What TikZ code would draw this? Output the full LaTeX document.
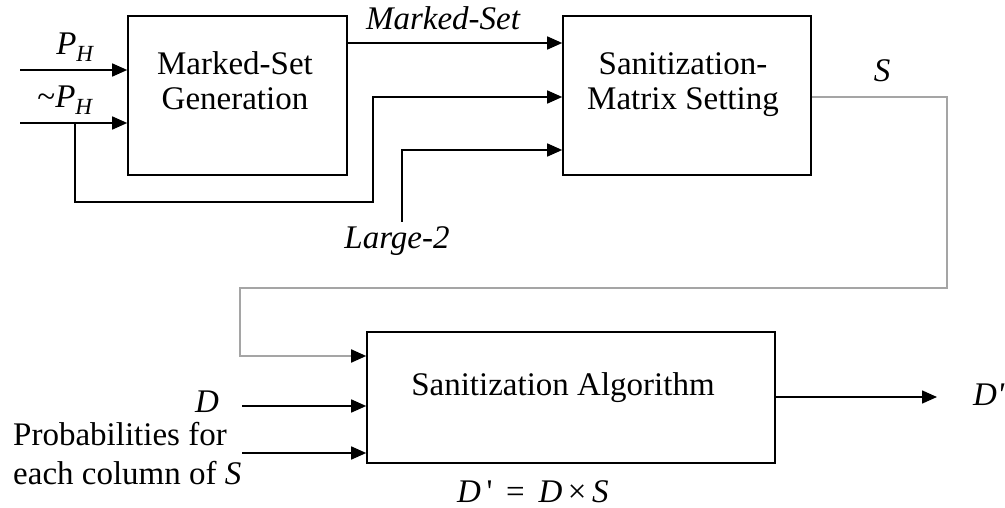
\documentclass[tikz,border=0pt]{standalone}
\usepackage{fontspec}
\setmainfont{Liberation Serif}
\usetikzlibrary{arrows.meta}
\definecolor{sline}{RGB}{165,165,165}
\begin{document}
\begin{tikzpicture}[x=1pt,y=-1pt,
  blk/.style={draw,line width=1.6pt,inner sep=0pt},
  txt/.style={inner sep=0pt,anchor=base,font=\fontsize{33}{37}\selectfont},
  lbl/.style={txt,font=\fontsize{33}{37}\selectfont\itshape},
  wire/.style={line width=1.6pt},
  arr/.style={wire,-{Triangle[length=15pt,width=13pt]}},
  sarr/.style={line width=1.8pt,color=sline,-{Triangle[length=15pt,width=13pt,color=black]}}]
\useasboundingbox (0,0) rectangle (1005,508);
\fill[white] (0,0) rectangle (1005,508);

% blocks
\node[blk,minimum width=219pt,minimum height=159pt] (gen) at (237.5,95.5) {};
\node[blk,minimum width=248pt,minimum height=159pt] (mat) at (687,95.5) {};
\node[blk,minimum width=408pt,minimum height=131pt] (alg) at (571,397.5) {};

% block captions
\node[txt] (gen1) at (235,75) {Marked-Set};
\node[txt] (gen2) at (235,110) {Generation};
\node[txt] (mat1) at (683,75) {Sanitization-};
\node[txt] (mat2) at (683,110) {Matrix Setting};
\node[txt] (alg1) at (563,395) {Sanitization Algorithm};

% free ends of the inputs
\coordinate (ph) at (20,70);
\coordinate (nph) at (20,123);
\coordinate (lg) at (402,222);
\coordinate (din) at (242,406);
\coordinate (pin) at (242,453);
\coordinate (dout) at (937,397);

% inputs of the marked-set generator
\draw[arr] (ph) -- (ph -| gen.west);
\draw[arr] (nph) -- (nph -| gen.west);
\node[txt] (phl) at (75,55) {{\itshape P}\textsubscript{\itshape H}};
\node[txt] (nphl) at (65,108) {\textasciitilde{\itshape P}\textsubscript{\itshape H}};

% marked set into the matrix setting
\draw[arr] (gen.east |- 0,43) -- (mat.west |- 0,43);
\node[lbl] (msl) at (443,30) {Marked-Set};

% ~P_H branch into the matrix setting
\coordinate (br) at (75,123);
\draw[arr] (br) |- (373,202) |- (mat.west |- 0,97);

% Large-2 input
\draw[arr] (lg) |- (mat.west |- 0,150);
\node[lbl] (lgl) at (397,248) {Large-2};

% S output routed down to the algorithm
\draw[sarr] (mat.east |- 0,97) -| (947,288) -| (240,356) -- (alg.west |- 0,356);
\node[lbl] (sl) at (882,82) {S};

% algorithm inputs
\draw[arr] (din) -- (din -| alg.west);
\draw[arr] (pin) -- (pin -| alg.west);
\node[lbl] (dl) at (207,412) {D};
\node[txt,anchor=base west] (pl1) at (13,445) {Probabilities for};
\node[txt,anchor=base west] (pl2) at (13,484) {each column of {\itshape S}};

% algorithm output
\draw[arr] (alg.east |- dout) -- (dout);
\node[lbl,anchor=base west] (dol) at (973,405) {D\textquotesingle};
\node[txt,anchor=base west] (eq) at (457,502) {{\itshape D}\,\textquotesingle\, = \,{\itshape D}\,×\,{\itshape S}};
\end{tikzpicture}
\end{document}
